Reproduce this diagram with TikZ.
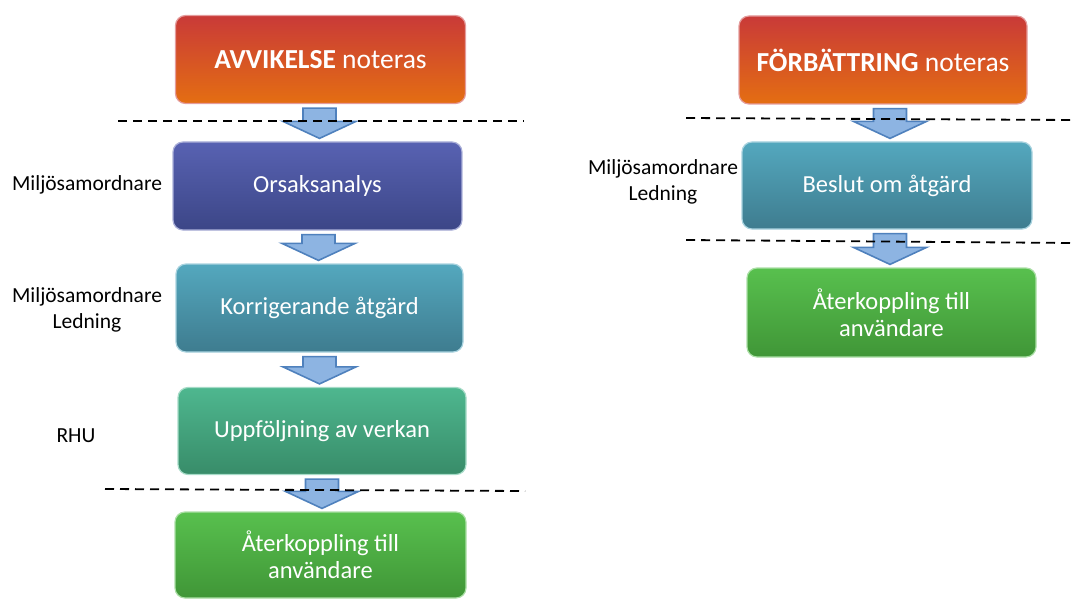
\documentclass[tikz,border=0pt]{standalone}
\usepackage{fontspec}
\setmainfont{Carlito}
\usetikzlibrary{calc}
\definecolor{redT}{RGB}{201,58,56}
\definecolor{redB}{RGB}{228,110,18}
\definecolor{purT}{RGB}{88,98,178}
\definecolor{purB}{RGB}{60,70,135}
\definecolor{tealT}{RGB}{84,168,190}
\definecolor{tealB}{RGB}{62,124,143}
\definecolor{gtT}{RGB}{78,183,143}
\definecolor{gtB}{RGB}{56,140,105}
\definecolor{grT}{RGB}{88,192,78}
\definecolor{grB}{RGB}{64,150,55}
\definecolor{arrFill}{RGB}{141,180,226}
\definecolor{arrLine}{RGB}{79,129,189}
\tikzset{
  box/.style={rounded corners=10pt, inner sep=0pt, text=white, align=center,
    font=\fontsize{24.5}{27}\selectfont, line width=1.2pt},
  redbox/.style={box, top color=redT, bottom color=redB, draw=redT!50!white,
    font=\fontsize{27.5}{30}\selectfont, text depth=-4pt},
  purbox/.style={box, top color=purT, bottom color=purB, draw=purT!50!white},
  tealbox/.style={box, top color=tealT, bottom color=tealB, draw=tealT!50!white},
  gtbox/.style={box, top color=gtT, bottom color=gtB, draw=gtT!50!white},
  grbox/.style={box, top color=grT, bottom color=grB, draw=grT!50!white},
  rolelabel/.style={align=center, text=black, font=\fontsize{21.5}{26}\selectfont, inner sep=0pt},
  blockarr/.style={fill=arrFill, draw=arrLine, line width=1.6pt, line join=miter},
  dashline/.style={draw=black, line width=1.8pt, dash pattern=on 9pt off 6pt}
}
% #1 from node, #2 to node, #3 horizontal shift of the arrow
\newcommand\barrow[3]{%
  \draw[blockarr] let \p1=($(#1.south)+(#3pt,0)$), \p2=(#2.north) in
    (\x1-16.5pt,\y1-4pt) -- (\x1+16.5pt,\y1-4pt) -- (\x1+16.5pt,\y2+20pt)
    -- (\x1+36.5pt,\y2+20pt) -- (\x1,\y2+3pt) -- (\x1-36.5pt,\y2+20pt)
    -- (\x1-16.5pt,\y2+20pt) -- cycle;}
\begin{document}
\begin{tikzpicture}[x=1pt,y=-1pt]
\useasboundingbox (0,0) rectangle (1076,599);
% left column
\node[redbox, minimum width=290pt, minimum height=88pt] (avv) at (320.5,59.5) {\textbf{AVVIKELSE} noteras};
\node[purbox, minimum width=289pt, minimum height=88pt] (ors) at (317.5,186) {Orsaksanalys};
\node[tealbox, minimum width=287pt, minimum height=88pt] (kor) at (319.5,308) {Korrigerande åtgärd};
\node[gtbox, minimum width=288pt, minimum height=87pt] (upp) at (322,431) {Uppföljning av verkan};
\node[grbox, minimum width=291pt, minimum height=86pt] (aterL) at (320.5,555) {Återkoppling till\\användare};
% right column
\node[redbox, minimum width=288pt, minimum height=88pt] (forb) at (883,60) {\textbf{FÖRBÄTTRING} noteras};
\node[tealbox, minimum width=290pt, minimum height=87pt] (bes) at (887,185.5) {Beslut om åtgärd};
\node[grbox, minimum width=289pt, minimum height=89pt] (aterR) at (891.5,312.5) {Återkoppling till\\användare};
% arrows
\barrow{avv}{ors}{-1}
\barrow{ors}{kor}{1}
\barrow{kor}{upp}{0}
\barrow{upp}{aterL}{0}
\barrow{forb}{bes}{7}
\barrow{bes}{aterR}{3}
% dashed lines
\draw[dashline] (118,121) -- (524,121);
\draw[dashline] (105,489) -- (525,491);
\draw[dashline] (686,118) -- (1074,120);
\draw[dashline] (686,240) -- (1074,243);
% role labels
\node[rolelabel] (l1) at (87,185) {Miljösamordnare};
\node[rolelabel] (l2) at (87,310) {Miljösamordnare\\Ledning};
\node[rolelabel] (l3) at (76,436) {RHU};
\node[rolelabel] (l4) at (663,182) {Miljösamordnare\\Ledning};
\end{tikzpicture}
\end{document}
